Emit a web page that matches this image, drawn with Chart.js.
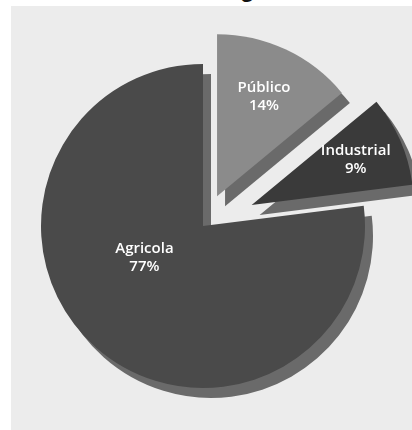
<!DOCTYPE html>
<html lang="es">
<head>
  <meta charset="UTF-8">
  <title>Uso del agua</title>
  <script src="https://cdn.jsdelivr.net/npm/chart.js"></script>
  <style>
    html, body { margin: 0; padding: 0; background: #fff; }
    #wrap { position: relative; width: 412px; height: 430px; overflow: hidden; }
    #panel { position: absolute; left: 11px; top: 6px; right: 0; bottom: 0; background: #ececec; }
    #titleCut { position: absolute; left: 240px; top: -25px; font: bold 24px "Liberation Sans", sans-serif; color: #111; }
    canvas { position: absolute; left: 0; top: 0; }
  </style>
</head>
<body>
  <div id="wrap">
    <div id="panel"></div>
    <div id="titleCut">g</div>
    <canvas id="usoChart" width="412" height="430"></canvas>
  </div>

  <script>
    // data (clockwise from 12 o'clock)
    const sectores = ['Público', 'Industrial', 'Agricola'];
    const porcentajes = [14, 9, 77];
    const etiquetas = ['14%', '9%', '77%'];

    const colores = ['#8b8b8b', '#3a3a3a', '#4a4a4a'];
    // how far each slice is pulled out, in px (chart.js' own offset also grows the radius, so do it by hand)
    const separacion = [33, 53, 0];
    // where each label sits inside its slice: fraction of radius, angle tweak in degrees
    const labelRadio = [0.68, 0.70, 0.41];
    const labelGiro = [0, 0, 20.5];

    const explotarPlugin = {
      id: 'explotar',
      afterDatasetUpdate(chart, args) {
        args.meta.data.forEach((arc, i) => {
          const mid = (arc.startAngle + arc.endAngle) / 2;
          arc.x += Math.cos(mid) * separacion[i];
          arc.y += Math.sin(mid) * separacion[i];
        });
      }
    };

    // 3D-ish side band under the slices
    const sombraPlugin = {
      id: 'sombra',
      beforeDatasetsDraw(chart) {
        const ctx = chart.ctx;
        ctx.save();
        ctx.shadowColor = '#6a6a6a';
        ctx.shadowOffsetX = 8;
        ctx.shadowOffsetY = 10;
        ctx.shadowBlur = 0;
      },
      afterDatasetsDraw(chart) {
        chart.ctx.restore();
      }
    };

    const etiquetasPlugin = {
      id: 'etiquetas',
      afterDatasetsDraw(chart) {
        const ctx = chart.ctx;
        const arcs = chart.getDatasetMeta(0).data;
        ctx.save();
        ctx.fillStyle = '#ffffff';
        ctx.textAlign = 'center';
        ctx.textBaseline = 'middle';
        ctx.font = '600 15px "Open Sans", sans-serif';
        arcs.forEach((arc, i) => {
          const mid = (arc.startAngle + arc.endAngle) / 2 + labelGiro[i] * Math.PI / 180;
          const r = arc.outerRadius * labelRadio[i];
          const cx = arc.x + Math.cos(mid) * r;
          const cy = arc.y + Math.sin(mid) * r;
          ctx.fillText(sectores[i], cx, cy - 9);
          ctx.fillText(etiquetas[i], cx, cy + 9);
        });
        ctx.restore();
      }
    };

    const ctx = document.getElementById('usoChart').getContext('2d');
    new Chart(ctx, {
      type: 'pie',
      data: {
        labels: sectores,
        datasets: [{
          data: porcentajes,
          backgroundColor: colores,
          borderWidth: 0,
          hoverOffset: 0
        }]
      },
      options: {
        responsive: false,
        animation: false,
        radius: 162,
        layout: { padding: { left: 0, right: 6, top: 22, bottom: 0 } },
        plugins: {
          legend: { display: false },
          tooltip: { enabled: false }
        }
      },
      plugins: [explotarPlugin, sombraPlugin, etiquetasPlugin]
    });
  </script>
</body>
</html>
